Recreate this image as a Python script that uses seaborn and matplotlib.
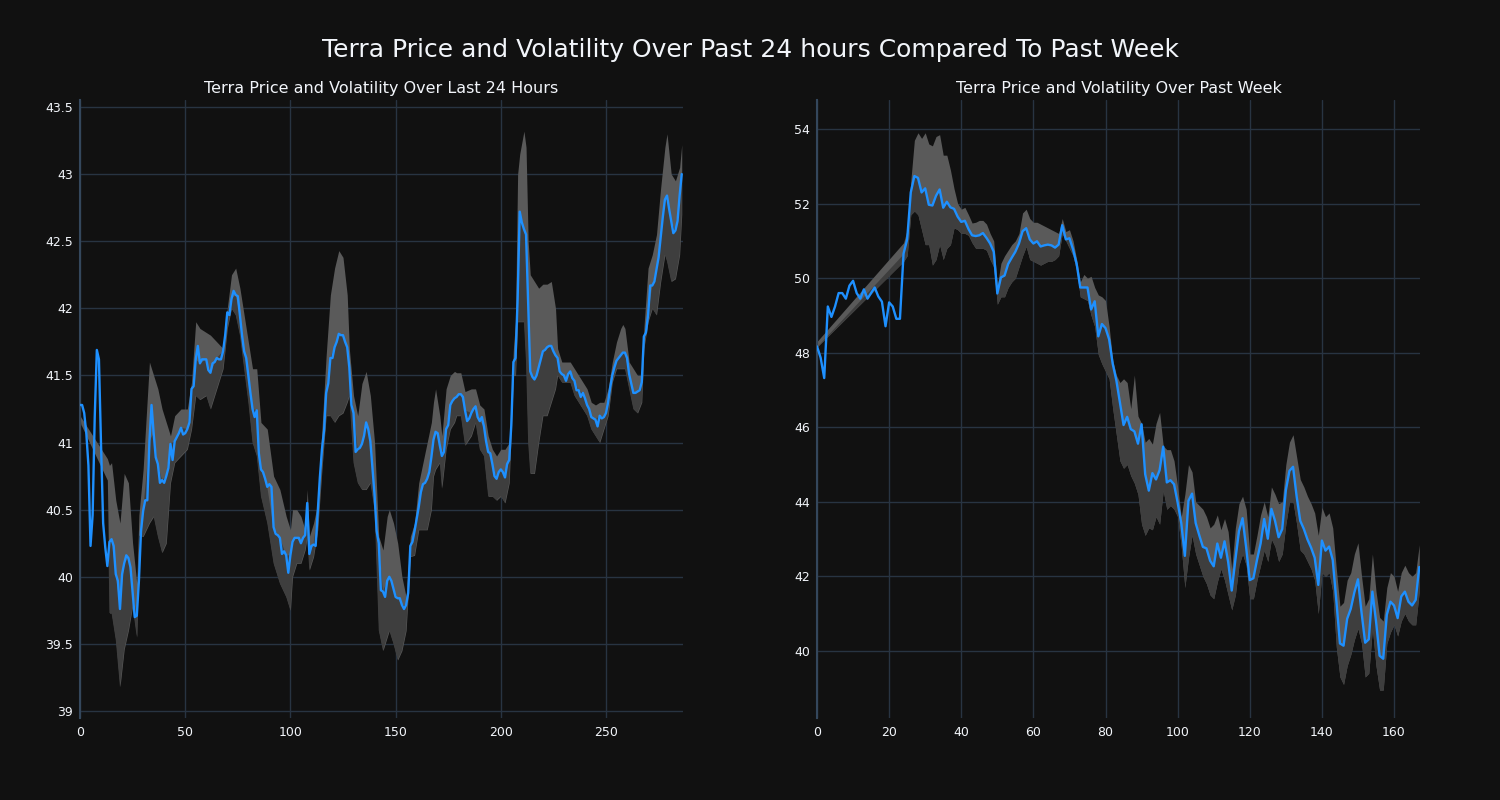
import numpy as np
import pandas as pd
import matplotlib
matplotlib.use("Agg")
import matplotlib.pyplot as plt
from matplotlib.ticker import FuncFormatter, MultipleLocator
import seaborn as sns

# ---------------- data ----------------
day_price = [
    41.28, 41.28, 41.22, 41.07, 40.83, 40.23, 40.46, 41.19, 41.69, 41.62,
    40.98, 40.40, 40.22, 40.08, 40.26, 40.28, 40.23, 40.02, 39.97, 39.76,
    40.02, 40.10, 40.16, 40.14, 40.07, 39.88, 39.70, 39.71, 39.97, 40.34,
    40.49, 40.57, 40.57, 41.01, 41.28, 41.07, 40.89, 40.84, 40.70, 40.72,
    40.70, 40.75, 40.81, 40.99, 40.87, 41.01, 41.04, 41.07, 41.11, 41.06,
    41.07, 41.10, 41.15, 41.40, 41.42, 41.62, 41.72, 41.59, 41.62, 41.62,
    41.62, 41.54, 41.52, 41.59, 41.60, 41.63, 41.62, 41.62, 41.68, 41.80,
    41.97, 41.95, 42.07, 42.13, 42.10, 42.09, 41.95, 41.80, 41.68, 41.63,
    41.50, 41.37, 41.25, 41.19, 41.24, 40.92, 40.80, 40.78, 40.73, 40.67,
    40.69, 40.67, 40.37, 40.32, 40.31, 40.29, 40.17, 40.19, 40.16, 40.03,
    40.16, 40.26, 40.29, 40.29, 40.29, 40.25, 40.29, 40.31, 40.55, 40.17,
    40.23, 40.24, 40.23, 40.49, 40.74, 40.95, 41.09, 41.37, 41.44, 41.63,
    41.63, 41.71, 41.75, 41.81, 41.80, 41.80, 41.75, 41.71, 41.56, 41.28,
    41.22, 40.93, 40.95, 40.96, 40.99, 41.05, 41.15, 41.10, 41.01, 40.81,
    40.61, 40.34, 40.25, 39.90, 39.89, 39.85, 39.97, 40.00, 39.97, 39.91,
    39.85, 39.84, 39.84, 39.79, 39.76, 39.79, 39.88, 40.23, 40.26, 40.34,
    40.43, 40.52, 40.63, 40.69, 40.70, 40.73, 40.78, 40.89, 41.02, 41.08,
    41.07, 40.98, 40.90, 40.93, 41.10, 41.13, 41.28, 41.31, 41.33, 41.34,
    41.36, 41.36, 41.34, 41.24, 41.16, 41.18, 41.22, 41.25, 41.27, 41.19,
    41.16, 41.19, 41.12, 41.01, 40.93, 40.92, 40.84, 40.75, 40.73, 40.78,
    40.80, 40.78, 40.74, 40.84, 40.87, 41.13, 41.60, 41.63, 42.07, 42.72,
    42.64, 42.59, 42.55, 42.05, 41.53, 41.49, 41.47, 41.50, 41.56, 41.62,
    41.68, 41.69, 41.71, 41.72, 41.72, 41.68, 41.65, 41.63, 41.53, 41.51,
    41.50, 41.46, 41.51, 41.53, 41.48, 41.46, 41.39, 41.39, 41.34, 41.37,
    41.33, 41.28, 41.25, 41.19, 41.18, 41.17, 41.12, 41.20, 41.18, 41.19,
    41.22, 41.30, 41.41, 41.50, 41.56, 41.61, 41.63, 41.65, 41.67, 41.67,
    41.63, 41.51, 41.44, 41.37, 41.37, 41.38, 41.39, 41.45, 41.79, 41.82,
    41.95, 42.17, 42.17, 42.20, 42.29, 42.38, 42.53, 42.68, 42.81, 42.84,
    42.74, 42.65, 42.56, 42.58, 42.65, 42.84, 43.00,
]

day_band_x = [
    0, 13, 14, 15, 17, 19, 21, 23, 25, 27, 28, 30, 33, 35, 37, 39, 41, 43, 45, 48,
    51, 53, 55, 57, 60, 62, 65, 68, 70, 72, 74, 76, 78, 80, 82, 84, 86, 89, 92, 95,
    98, 100, 101, 103, 105, 107, 108, 109, 111, 113, 115, 117, 119, 121, 123, 125,
    127, 128, 130, 132, 134, 136, 138, 140, 142, 144, 146, 147, 149, 151, 153, 155,
    157, 159, 161, 163, 165, 167, 168, 169, 171, 172, 174, 176, 178, 179, 181, 183,
    186, 188, 190, 192, 194, 196, 198, 200, 202, 204, 206, 207, 208, 209, 211, 212,
    213, 214, 216, 218, 220, 222, 224, 226, 227, 229, 231, 233, 235, 237, 239, 241,
    243, 245, 247, 249, 251, 253, 255, 257, 258, 259, 261, 263, 265, 267, 268, 270,
    272, 274, 276, 278, 279, 281, 283, 285, 286,
]
day_upper = [
    41.20, 40.88, 40.83, 40.85, 40.57, 40.40, 40.77, 40.70, 40.25, 39.95, 40.46, 40.80,
    41.60, 41.50, 41.40, 41.25, 41.15, 41.05, 41.20, 41.25, 41.25, 41.45, 41.90, 41.85,
    41.82, 41.80, 41.75, 41.70, 42.00, 42.25, 42.30, 42.15, 41.95, 41.75, 41.55, 41.55,
    41.15, 41.10, 40.75, 40.65, 40.45, 40.35, 40.50, 40.50, 40.45, 40.35, 40.65, 40.30,
    40.40, 40.55, 41.10, 41.65, 42.10, 42.30, 42.43, 42.38, 42.10, 41.70, 41.35, 41.20,
    41.44, 41.53, 41.35, 41.00, 40.30, 40.20, 40.45, 40.50, 40.40, 40.25, 40.00, 39.85,
    40.30, 40.40, 40.70, 40.85, 41.00, 41.15, 41.30, 41.40, 41.20, 41.05, 41.40, 41.50,
    41.53, 41.52, 41.52, 41.38, 41.40, 41.40, 41.28, 41.25, 41.05, 40.95, 40.90, 40.95,
    40.95, 41.00, 41.70, 41.90, 43.00, 43.15, 43.32, 43.20, 42.50, 42.25, 42.20, 42.15,
    42.18, 42.18, 42.20, 42.00, 41.70, 41.60, 41.60, 41.60, 41.55, 41.50, 41.45, 41.40,
    41.30, 41.28, 41.30, 41.30, 41.40, 41.60, 41.75, 41.85, 41.88, 41.85, 41.60, 41.55,
    41.50, 41.50, 41.85, 42.30, 42.40, 42.55, 42.90, 43.20, 43.30, 43.00, 42.95, 43.05,
    43.22,
]
day_lower = [
    41.15, 40.72, 39.73, 39.73, 39.53, 39.18, 39.46, 39.60, 39.78, 39.55, 40.31, 40.30,
    40.40, 40.45, 40.30, 40.18, 40.25, 40.70, 40.85, 40.90, 40.95, 41.10, 41.35, 41.32,
    41.35, 41.25, 41.40, 41.55, 41.85, 42.00, 41.95, 41.80, 41.55, 41.30, 41.00, 40.90,
    40.60, 40.40, 40.10, 39.95, 39.85, 39.75, 40.00, 40.10, 40.10, 40.20, 40.30, 40.05,
    40.15, 40.35, 40.80, 41.20, 41.20, 41.15, 41.20, 41.22, 41.30, 41.35, 40.85, 40.70,
    40.65, 40.65, 40.70, 40.50, 39.60, 39.45, 39.55, 39.60, 39.50, 39.38, 39.45, 39.60,
    40.15, 40.16, 40.35, 40.35, 40.35, 40.50, 40.75, 40.80, 40.85, 40.66, 40.95, 41.10,
    41.15, 41.20, 41.20, 40.98, 41.05, 41.15, 40.95, 40.90, 40.60, 40.60, 40.57, 40.60,
    40.55, 40.70, 41.50, 41.50, 41.90, 41.90, 41.90, 41.60, 41.00, 40.77, 40.77, 41.00,
    41.20, 41.20, 41.30, 41.40, 41.50, 41.45, 41.45, 41.45, 41.35, 41.30, 41.25, 41.20,
    41.10, 41.05, 41.00, 41.10, 41.20, 41.45, 41.55, 41.55, 41.55, 41.55, 41.40, 41.25,
    41.22, 41.30, 41.70, 41.90, 42.00, 41.95, 42.20, 42.40, 42.35, 42.20, 42.22, 42.40,
    42.70,
]

week_price = [
    48.17, 47.87, 47.32, 49.24, 48.96, 49.24, 49.60, 49.60, 49.45, 49.80,
    49.93, 49.60, 49.45, 49.70, 49.45, 49.60, 49.75, 49.51, 49.37, 48.71,
    49.35, 49.24, 48.91, 48.91, 50.66, 51.04, 52.30, 52.74, 52.69, 52.30,
    52.41, 51.97, 51.95, 52.21, 52.38, 51.89, 52.05, 51.90, 51.86, 51.65,
    51.51, 51.54, 51.32, 51.15, 51.13, 51.15, 51.21, 51.08, 50.93, 50.71,
    49.59, 50.02, 50.07, 50.38, 50.55, 50.71, 50.93, 51.26, 51.34, 51.04,
    50.93, 50.99, 50.85, 50.88, 50.90, 50.88, 50.82, 50.90, 51.42, 51.04,
    51.07, 50.77, 50.38, 49.75, 49.75, 49.75, 49.16, 49.38, 48.44, 48.77,
    48.66, 48.36, 47.70, 47.26, 46.66, 46.06, 46.28, 45.95, 45.89, 45.56,
    46.08, 44.74, 44.30, 44.77, 44.60, 44.85, 45.48, 44.52, 44.58, 44.47,
    43.98, 43.43, 42.55, 44.03, 44.22, 43.43, 43.10, 42.79, 42.75, 42.42,
    42.27, 42.88, 42.50, 42.94, 42.39, 41.62, 42.44, 43.21, 43.56, 42.77,
    41.90, 41.95, 42.44, 42.88, 43.54, 43.01, 43.81, 43.49, 43.05, 43.27,
    44.31, 44.83, 44.94, 44.14, 43.49, 43.27, 42.99, 42.77, 42.50, 41.77,
    42.96, 42.69, 42.80, 42.44, 41.35, 40.20, 40.14, 40.86, 41.13, 41.57,
    41.92, 41.02, 40.22, 40.31, 41.59, 40.80, 39.87, 39.79, 40.97, 41.32,
    41.22, 40.88, 41.46, 41.59, 41.32, 41.22, 41.37, 42.25,
]

week_band_x = [0] + list(range(24, 168))
week_upper = [
    48.30,
    50.95, 51.30, 52.60, 53.70, 53.90, 53.75, 53.90, 53.60, 53.55, 53.80,
    53.85, 53.30, 53.30, 52.90, 52.40, 52.00, 51.85, 51.90, 51.70, 51.48,
    51.50, 51.55, 51.55, 51.45, 51.20, 51.00, 49.80, 50.40, 50.60, 50.75,
    50.90, 51.00, 51.20, 51.75, 51.85, 51.60, 51.50, 51.50, 51.45, 51.40,
    51.35, 51.30, 51.25, 51.20, 51.60, 51.25, 51.30, 51.00, 50.50, 49.90,
    50.10, 50.00, 50.05, 49.75, 49.55, 49.50, 49.40, 48.70, 47.80, 47.40,
    47.20, 47.30, 47.20, 46.50, 47.40, 46.30, 46.10, 45.60, 45.70, 45.55,
    46.10, 46.40, 45.50, 45.40, 45.40, 45.10, 44.40, 43.60, 44.20, 45.00,
    44.80, 44.00, 43.90, 43.80, 43.60, 43.30, 43.40, 43.65, 43.25, 43.55,
    43.20, 42.20, 43.30, 43.95, 44.15, 43.80, 42.60, 42.60, 43.10, 43.65,
    44.00, 43.60, 44.40, 44.20, 43.95, 44.00, 45.00, 45.60, 45.80, 45.20,
    44.60, 44.40, 44.15, 43.95, 43.70, 43.10, 43.85, 43.60, 43.70, 43.30,
    42.20, 41.20, 41.30, 41.90, 42.10, 42.60, 42.90, 42.00, 41.20, 41.40,
    42.60, 41.60, 40.90, 40.80, 41.70, 42.10, 42.00, 41.60, 42.10, 42.30,
    42.10, 42.00, 42.10, 42.85,
]
week_lower = [
    48.15,
    50.45, 50.60, 51.70, 51.80, 51.70, 51.30, 50.90, 50.90, 50.35, 50.50,
    50.90, 50.50, 50.80, 50.90, 51.35, 51.30, 51.20, 51.20, 51.15, 50.95,
    50.80, 50.80, 50.80, 50.75, 50.50, 50.30, 49.30, 49.50, 49.50, 49.75,
    49.90, 50.00, 50.30, 50.60, 50.85, 50.50, 50.45, 50.40, 50.35, 50.40,
    50.45, 50.45, 50.50, 50.60, 51.20, 51.00, 50.80, 50.60, 50.20, 49.50,
    49.45, 49.40, 49.00, 48.70, 47.95, 47.70, 47.50, 47.30, 46.50, 45.80,
    45.10, 44.90, 45.00, 44.70, 44.50, 44.20, 43.40, 43.10, 43.30, 43.25,
    43.60, 43.40, 44.30, 43.80, 43.90, 43.80, 43.60, 42.80, 41.70, 42.50,
    43.10, 42.60, 42.30, 42.00, 41.80, 41.50, 41.40, 41.85, 42.20, 41.90,
    41.50, 41.10, 41.50, 42.30, 42.60, 42.30, 41.40, 41.40, 41.90, 42.30,
    42.70, 42.40, 43.00, 42.80, 42.40, 42.60, 43.40, 44.00, 44.00, 43.40,
    42.70, 42.60, 42.40, 42.20, 41.90, 41.00, 42.10, 42.00, 42.10, 41.60,
    40.10, 39.30, 39.10, 39.60, 39.90, 40.30, 40.60, 40.20, 39.30, 39.40,
    40.60, 39.60, 38.95, 38.95, 40.20, 40.50, 40.70, 40.40, 40.80, 41.00,
    40.80, 40.70, 40.70, 41.60,
]

day_yticks = [39, 39.5, 40, 40.5, 41, 41.5, 42, 42.5, 43, 43.5]
week_yticks = [40, 42, 44, 46, 48, 50, 52, 54]

suptitle = "Terra Price and Volatility Over Past 24 hours Compared To Past Week"
title_day = "Terra Price and Volatility Over Last 24 Hours"
title_week = "Terra Price and Volatility Over Past Week"

# ---------------- style ----------------
BG = "#111111"
GRID = "#283442"
TXT = "#f2f5fa"
LINE = "#1E90FF"
LIGHT = "#5a5a5a"
DARK = "#3e3e3e"

sns.set_theme(style="darkgrid")
plt.rcParams.update({
    "font.family": ["DejaVu Sans"],
    "figure.facecolor": BG,
    "axes.facecolor": BG,
    "axes.edgecolor": GRID,
    "grid.color": GRID,
    "grid.linewidth": 1.0,
    "text.color": TXT,
    "xtick.color": TXT,
    "ytick.color": TXT,
})

fig = plt.figure(figsize=(15, 8), dpi=100, facecolor=BG)
ax1 = fig.add_axes([80 / 1500, 82 / 800, 603 / 1500, 618 / 800])
ax2 = fig.add_axes([817 / 1500, 82 / 800, 603 / 1500, 618 / 800])


def draw(ax, price, bx, upper, lower, yticks, xstep, xlim, ylim, title):
    x = np.arange(len(price))
    price = np.asarray(price, dtype=float)
    bx = np.asarray(bx)
    up = np.asarray(upper, dtype=float)
    lo = np.asarray(lower, dtype=float)
    pb = price[bx]
    ax.fill_between(bx, lo, up, color=LIGHT, linewidth=0, zorder=2)
    top = np.minimum(pb, up)
    ax.fill_between(bx, lo, top, where=top > lo, interpolate=True,
                    color=DARK, linewidth=0, zorder=2.1)
    df = pd.DataFrame({"x": x, "price": price})
    sns.lineplot(data=df, x="x", y="price", ax=ax, color=LINE,
                 linewidth=1.7, zorder=3)
    ax.set_xlim(*xlim)
    ax.set_ylim(*ylim)
    ax.set_yticks(yticks)
    ax.xaxis.set_major_locator(MultipleLocator(xstep))
    ax.yaxis.set_major_formatter(FuncFormatter(lambda v, p: f"{v:g}"))
    ax.set_xlabel("")
    ax.set_ylabel("")
    ax.set_facecolor(BG)
    ax.grid(True, color=GRID, linewidth=1.0, zorder=0)
    for s in ["top", "right", "bottom"]:
        ax.spines[s].set_visible(False)
    ax.spines["left"].set_color("#34475c")
    ax.spines["left"].set_linewidth(1.5)
    ax.tick_params(axis="both", length=0, labelsize=9, colors=TXT)
    ax.tick_params(axis="x", pad=6)
    ax.tick_params(axis="y", pad=5)
    ax.set_title(title, fontsize=11.5, color=TXT, pad=5)


draw(ax1, day_price, day_band_x, day_upper, day_lower, day_yticks, 50,
     (0, 286.6), (38.948, 43.552), title_day)
draw(ax2, week_price, week_band_x, week_upper, week_lower, week_yticks, 20,
     (0, 167.2), (38.2, 54.78), title_week)

fig.suptitle(suptitle, fontsize=18, color=TXT, y=1 - 50 / 800, va="center")

fig.savefig("out.png", dpi=100, facecolor=BG)
